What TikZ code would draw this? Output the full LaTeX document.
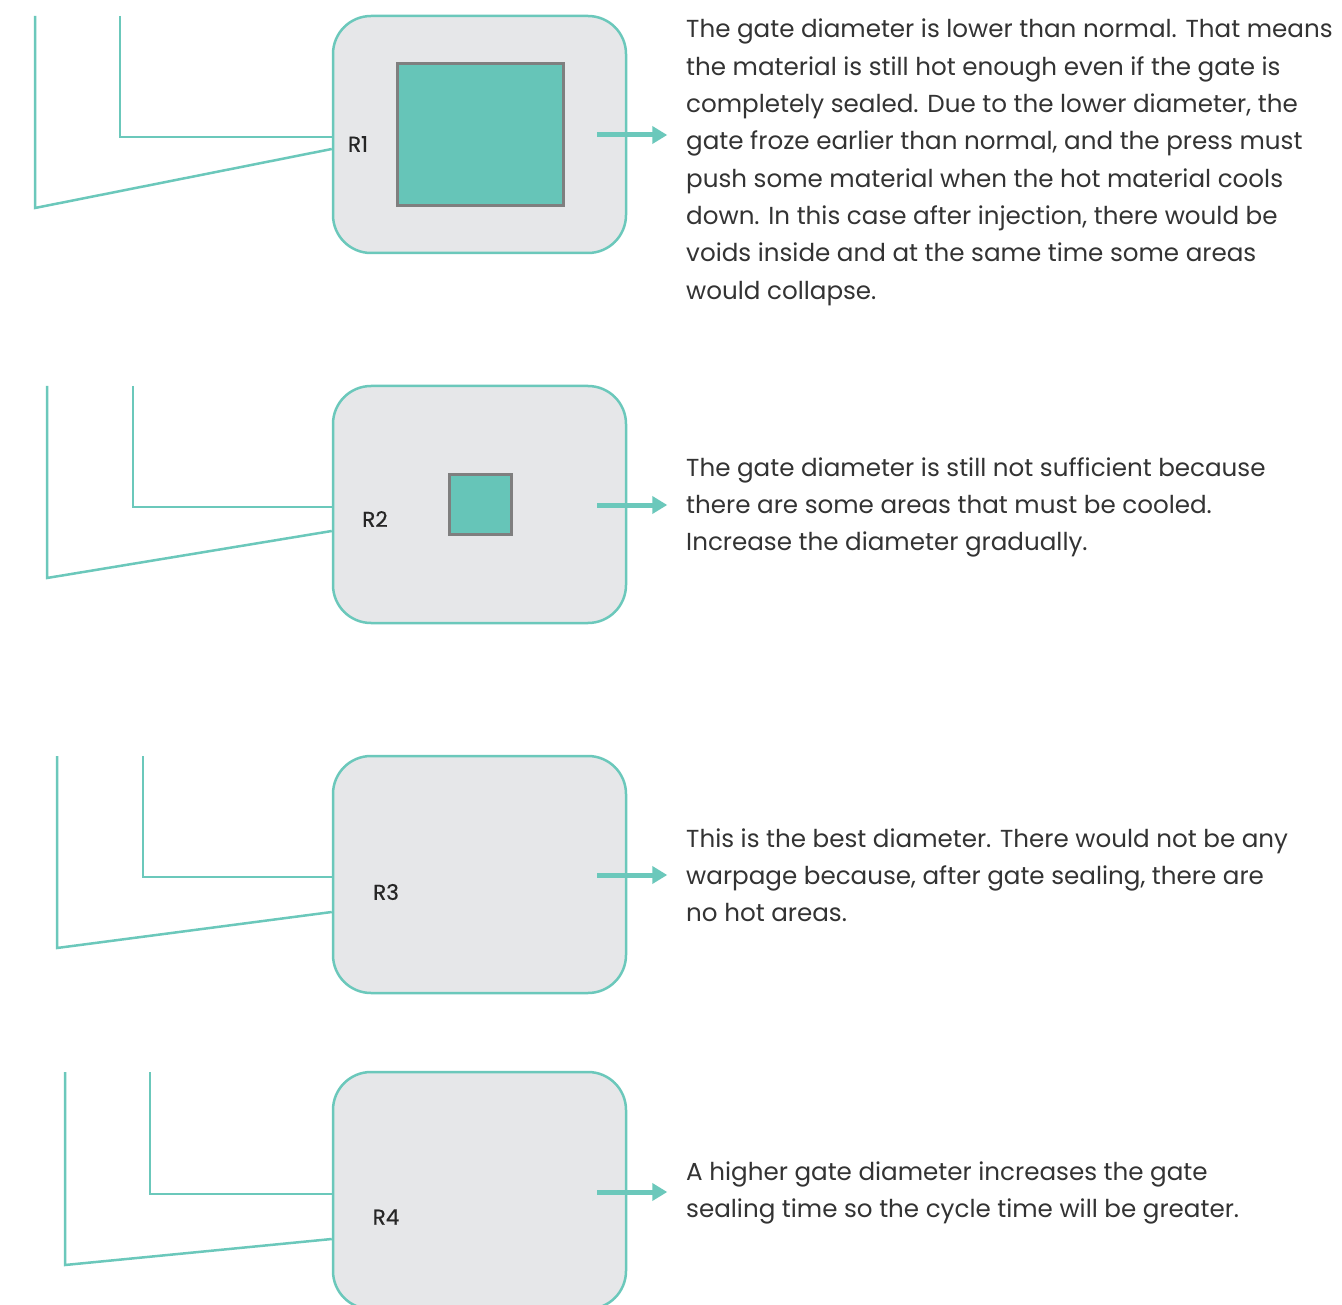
\documentclass[tikz,border=0pt]{standalone}
\usepackage{fontspec}
\setmainfont{Poppins}
\newfontfamily\lblfont{Poppins}[FakeBold=0.6]
\usetikzlibrary{arrows.meta}
\definecolor{teal}{HTML}{6BC8BB}
\definecolor{tealfill}{HTML}{66C5B8}
\definecolor{boxfill}{HTML}{E6E7E9}
\definecolor{sqline}{HTML}{7F7F7F}
\definecolor{txt}{HTML}{333333}
\begin{document}
\begin{tikzpicture}[x=1pt,y=-1pt,
  rbox/.style={draw=teal, fill=boxfill, line width=2.5pt, rounded corners=38pt,
    minimum width=293pt, minimum height=237pt, inner sep=0pt},
  sq/.style={draw=sqline, fill=tealfill, line width=3pt, inner sep=0pt},
  conn/.style={draw=teal, line width=2.5pt},
  arr/.style={draw=teal, line width=5pt, -{Triangle[length=15pt,width=17pt]}},
  lbl/.style={text=black!85, font=\lblfont\fontsize{21.5}{24}\selectfont, inner sep=0pt},
  desc/.style={anchor=base west, inner sep=0pt, text=txt}
]
\clip (0,0) rectangle (1342,1305);
\fill[white] (0,0) rectangle (1342,1305);

% ---------- R1 ----------
\node[rbox] (b1) at (479.5,134.5) {};
\node[sq, minimum width=166pt, minimum height=142pt] (s1) at (480,135) {};
\node[lbl] (l1) at (358,144) {R1};
\coordinate (t1o) at (35,16);
\coordinate (t1i) at (120,16);
\coordinate (k1) at (35,208);
\draw[conn] (t1i) |- ([yshift=-2.5pt]b1.west);
\draw[conn] (t1o) -- (k1) -- ([yshift=-14.5pt]b1.west);
\node[desc] (d1) at (686,38) {\parbox[t]{700pt}{\fontsize{24.6}{37.3}\selectfont
The gate diameter is lower than normal. That means\\
the material is still hot enough even if the gate is\\
completely sealed. Due to the lower diameter, the\\
gate froze earlier than normal, and the press must\\
push some material when the hot material cools\\
down. In this case after injection, there would be\\
voids inside and at the same time some areas\\
would collapse.}};
\draw[arr] ([xshift=-30pt,yshift=-0.5pt]b1.east) -- ++(70pt,0);

% ---------- R2 ----------
\node[rbox] (b2) at (479.5,504.5) {};
\node[sq, minimum width=62pt, minimum height=59pt] (s2) at (480,504.5) {};
\node[lbl] (l2) at (375,519) {R2};
\coordinate (t2o) at (47,386);
\coordinate (t2i) at (133,386);
\coordinate (k2) at (47,578);
\draw[conn] (t2i) |- ([yshift=-2.5pt]b2.west);
\draw[conn] (t2o) -- (k2) -- ([yshift=-26.5pt]b2.west);
\node[desc] (d2) at (686,476) {\parbox[t]{700pt}{\fontsize{24.6}{37.3}\selectfont
The gate diameter is still not sufficient because\\
there are some areas that must be cooled.\\
Increase the diameter gradually.}};
\draw[arr] ([xshift=-30pt,yshift=-0.5pt]b2.east) -- ++(70pt,0);

% ---------- R3 ----------
\node[rbox] (b3) at (479.5,874.5) {};
\node[lbl] (l3) at (386,892) {R3};
\coordinate (t3o) at (57,756);
\coordinate (t3i) at (143,756);
\coordinate (k3) at (57,948);
\draw[conn] (t3i) |- ([yshift=-2.5pt]b3.west);
\draw[conn] (t3o) -- (k3) -- ([yshift=-37.5pt]b3.west);
\node[desc] (d3) at (686,847) {\parbox[t]{700pt}{\fontsize{24.6}{37.3}\selectfont
This is the best diameter. There would not be any\\
warpage because, after gate sealing, there are\\
no hot areas.}};
\draw[arr] ([xshift=-30pt,yshift=-0.5pt]b3.east) -- ++(70pt,0);

% ---------- R4 ----------
\node[rbox] (b4) at (479.5,1190.5) {};
\node[lbl] (l4) at (386,1217) {R4};
\coordinate (t4o) at (65,1072);
\coordinate (t4i) at (150,1072);
\coordinate (k4) at (65,1265);
\draw[conn] (t4i) |- ([yshift=-3.5pt]b4.west);
\draw[conn] (t4o) -- (k4) -- ([yshift=-48.5pt]b4.west);
\node[desc] (d4) at (686,1180) {\parbox[t]{700pt}{\fontsize{24.6}{37.3}\selectfont
A higher gate diameter increases the gate\\
sealing time so the cycle time will be greater.}};
\draw[arr] ([xshift=-30pt,yshift=-1.5pt]b4.east) -- ++(70pt,0);
\end{tikzpicture}
\end{document}
